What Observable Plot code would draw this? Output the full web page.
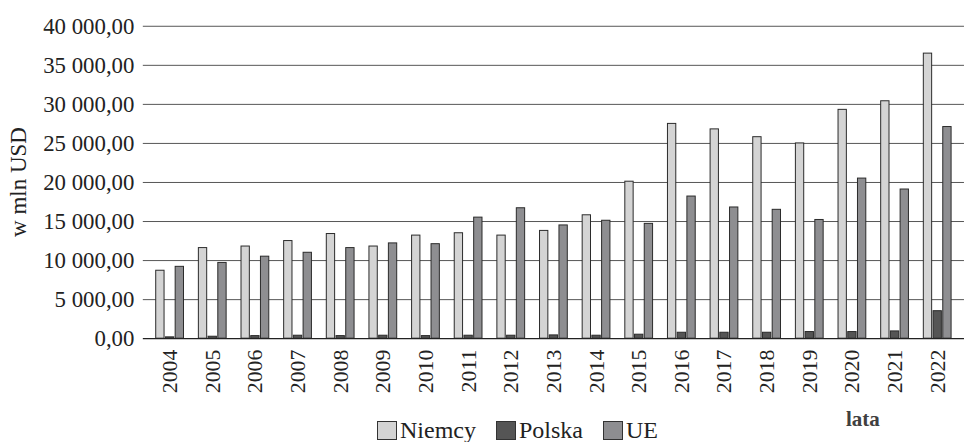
<!DOCTYPE html>
<html>
<head>
<meta charset="utf-8">
<script src="https://cdn.jsdelivr.net/npm/d3@7"></script>
<script src="https://cdn.jsdelivr.net/npm/@observablehq/plot@0.6"></script>
<style>
  body { margin: 0; background: #fff; }
  #wrap { position: relative; width: 964px; height: 442px; overflow: hidden; background: #fff;
          font-family: "Liberation Serif", "Times New Roman", serif; color: #222; }
  #wrap svg { display: block; }
  #wrap g[aria-label^="y-axis"] text { font-size: 23px; }
  #legend { position: absolute; left: 377px; top: 418px; height: 24px; display: flex; align-items: center;
            font-size: 24px; line-height: 24px; }
  .item { display: flex; align-items: center; margin-right: 20px; }
  .sw { width: 18px; height: 17px; border: 1px solid #333; margin-right: 3px; box-sizing: content-box; }
  #xlab { position: absolute; left: 846px; top: 407px; font-weight: bold; font-size: 21px; color: #404040; }
  #ylab { position: absolute; left: 18px; top: 182px; width: 0; height: 0; }
  #ylab span { position: absolute; white-space: nowrap; font-size: 23px; line-height: 23px;
               transform: translate(-50%, -50%) rotate(-90deg); }
</style>
</head>
<body>
<div id="wrap"></div>
<script>
const years = ["2004","2005","2006","2007","2008","2009","2010","2011","2012","2013","2014","2015","2016","2017","2018","2019","2020","2021","2022"];
const niemcy = [8700, 11600, 11800, 12500, 13400, 11800, 13200, 13500, 13200, 13800, 15800, 20100, 27500, 26800, 25800, 25000, 29300, 30400, 36500];
const polska = [170, 250, 330, 380, 330, 380, 330, 380, 380, 420, 380, 510, 760, 760, 760, 850, 850, 930, 3520];
const ue = [9200, 9700, 10500, 11000, 11600, 12200, 12100, 15500, 16700, 14500, 15100, 14700, 18200, 16800, 16500, 15200, 20500, 19100, 27100];
const series = ["Niemcy", "Polska", "UE"];
const colors = ["#d4d4d4", "#555555", "#8e8e91"];
const yTicks = [0, 5000, 10000, 15000, 20000, 25000, 30000, 35000, 40000];
const yLabel = "w mln USD";
const xLabel = "lata";

const values = [niemcy, polska, ue];
const rows = values.map(arr => years.map((yr, i) => ({year: yr, value: arr[i]})));

const fmt = d3.formatLocale({decimal: ",", thousands: " ", grouping: [3], currency: ["", ""]}).format(",.2f");

// three bars side by side inside each year band
const bandInsets = [
  {insetLeft: 0, insetRight: 19.6},
  {insetLeft: 9.8, insetRight: 9.8},
  {insetLeft: 19.6, insetRight: 0}
];

const plot = Plot.plot({
  width: 972,
  height: 412,
  marginLeft: 144,
  marginRight: 0,
  marginTop: 26,
  marginBottom: 71,
  style: {fontFamily: "Liberation Serif, Times New Roman, serif", fontSize: "22px", color: "#222", background: "white", overflow: "hidden"},
  x: {domain: years, paddingInner: 0.36, paddingOuter: 0.18, label: null, tickRotate: -90, tickSize: 0, tickPadding: 11},
  y: {domain: [0, 40000], ticks: yTicks, tickFormat: fmt, tickSize: 0, tickPadding: 9, label: null},
  marks: [
    Plot.ruleY(yTicks.slice(1), {stroke: "#555", strokeWidth: 1}),
    ...series.map((s, j) => Plot.barY(rows[j], {x: "year", y: "value", fill: colors[j], stroke: "#2a2a2a", strokeWidth: 1, ...bandInsets[j]})),
    Plot.ruleY([0], {stroke: "#222", strokeWidth: 1.2})
  ]
});

const wrap = document.getElementById("wrap");
wrap.appendChild(plot);

const yl = document.createElement("div");
yl.id = "ylab";
const ys = document.createElement("span");
ys.textContent = yLabel;
yl.appendChild(ys);
wrap.appendChild(yl);

const legend = document.createElement("div");
legend.id = "legend";
series.forEach((s, j) => {
  const it = document.createElement("div");
  it.className = "item";
  const sw = document.createElement("span");
  sw.className = "sw";
  sw.style.background = colors[j];
  const tx = document.createElement("span");
  tx.textContent = s;
  it.appendChild(sw);
  it.appendChild(tx);
  legend.appendChild(it);
});
wrap.appendChild(legend);

const xl = document.createElement("div");
xl.id = "xlab";
xl.textContent = xLabel;
wrap.appendChild(xl);
</script>
</body>
</html>
